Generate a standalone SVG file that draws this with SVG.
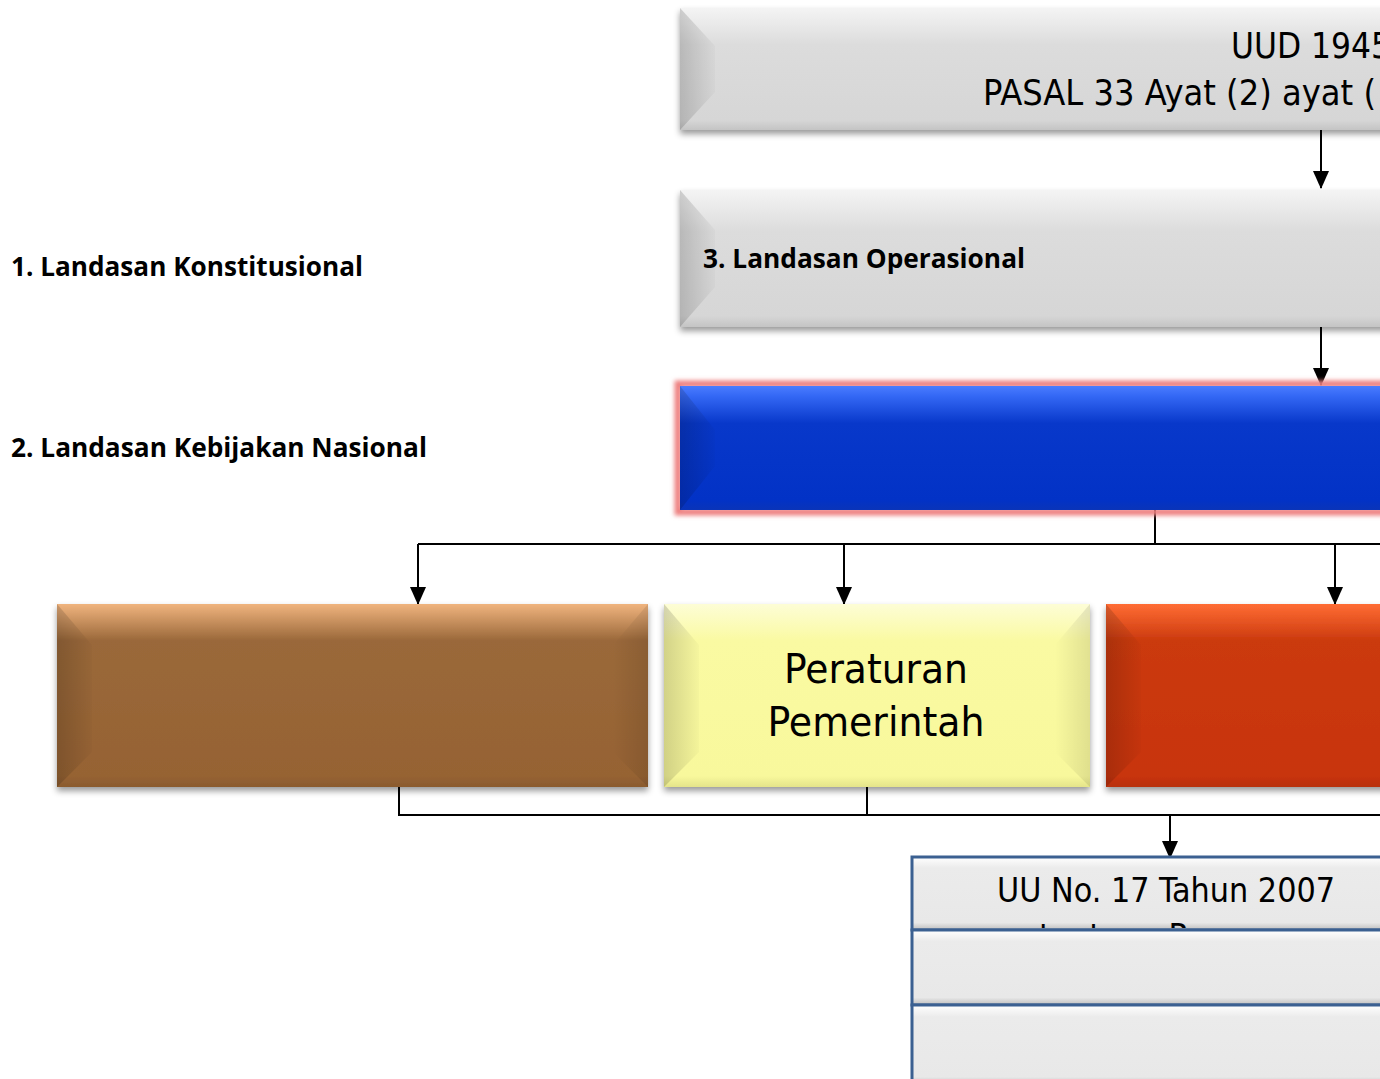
<svg xmlns="http://www.w3.org/2000/svg" width="1380" height="1079" viewBox="0 0 1380 1079">
  <style>
    .lbl { font-family: "Open Sans", Lato, "DejaVu Sans", sans-serif; font-weight: 700; font-size: 26px; fill: #000; }
    .box-txt { font-family: "DejaVu Sans Condensed", "DejaVu Sans", sans-serif; font-stretch: condensed; fill: #000; }
    .wire { fill: none; stroke: #000; stroke-width: 2; }
  </style>
  <defs>
    <filter id="shadow" x="-5%" y="-20%" width="110%" height="150%">
      <feDropShadow dx="0" dy="4" stdDeviation="3" flood-color="#000" flood-opacity="0.4"/>
    </filter>
    <filter id="glow" x="-5%" y="-20%" width="110%" height="150%">
      <feGaussianBlur stdDeviation="2"/>
    </filter>
    <!-- arrowhead drawn along +x so orient="auto" points it down the line -->
    <marker id="arrow" markerUnits="userSpaceOnUse" markerWidth="18" markerHeight="16" refX="17" refY="8" orient="auto" viewBox="0 0 18 16">
      <path d="M0,0 L18,8 L0,16 Z" fill="#000"/>
    </marker>
    <!-- vertical face shading -->
    <linearGradient id="gGray" x1="0" y1="0" x2="0" y2="1">
      <stop offset="0" stop-color="#f4f4f4"/>
      <stop offset="0.3" stop-color="#dcdcdc"/>
      <stop offset="0.92" stop-color="#d6d6d6"/>
      <stop offset="1" stop-color="#c4c4c4"/>
    </linearGradient>
    <linearGradient id="gBlue" x1="0" y1="0" x2="0" y2="1">
      <stop offset="0" stop-color="#4b7cff"/>
      <stop offset="0.08" stop-color="#3468f5"/>
      <stop offset="0.3" stop-color="#0838ca"/>
      <stop offset="0.92" stop-color="#0232c6"/>
      <stop offset="1" stop-color="#0a34b8"/>
    </linearGradient>
    <linearGradient id="gBrown" x1="0" y1="0" x2="0" y2="1">
      <stop offset="0" stop-color="#f0b47e"/>
      <stop offset="0.2" stop-color="#9a683a"/>
      <stop offset="0.94" stop-color="#966333"/>
      <stop offset="1" stop-color="#8a5a2e"/>
    </linearGradient>
    <linearGradient id="gYellow" x1="0" y1="0" x2="0" y2="1">
      <stop offset="0" stop-color="#fdfdd6"/>
      <stop offset="0.2" stop-color="#fafaa2"/>
      <stop offset="0.94" stop-color="#f8f89c"/>
      <stop offset="1" stop-color="#e4e48a"/>
    </linearGradient>
    <linearGradient id="gOrange" x1="0" y1="0" x2="0" y2="1">
      <stop offset="0" stop-color="#ff6c34"/>
      <stop offset="0.2" stop-color="#cb3a0e"/>
      <stop offset="0.94" stop-color="#c83408"/>
      <stop offset="1" stop-color="#b83008"/>
    </linearGradient>
    <linearGradient id="gRow" x1="0" y1="0" x2="0" y2="1">
      <stop offset="0" stop-color="#ffffff"/>
      <stop offset="0.15" stop-color="#ebebeb"/>
      <stop offset="0.9" stop-color="#e8e8e8"/>
      <stop offset="1" stop-color="#bdbdbd"/>
    </linearGradient>
    <!-- side bevel shading -->
    <linearGradient id="gSideDark" x1="0" y1="0" x2="1" y2="0">
      <stop offset="0" stop-color="#000" stop-opacity="0.16"/>
      <stop offset="1" stop-color="#000" stop-opacity="0.02"/>
    </linearGradient>
    <linearGradient id="gSideDarkR" x1="1" y1="0" x2="0" y2="0">
      <stop offset="0" stop-color="#000" stop-opacity="0.1"/>
      <stop offset="1" stop-color="#000" stop-opacity="0.0"/>
    </linearGradient>
    <clipPath id="row1clip">
      <rect x="912" y="857" width="470" height="71"/>
    </clipPath>
  </defs>

  <rect width="1380" height="1079" fill="#fff"/>

  <!-- side labels -->
  <text class="lbl" x="11" y="276" textLength="352" lengthAdjust="spacingAndGlyphs">1. Landasan Konstitusional</text>
  <text class="lbl" x="11" y="457" textLength="416" lengthAdjust="spacingAndGlyphs">2. Landasan Kebijakan Nasional</text>

  <!-- connectors -->
  <g id="connectors">
    <path class="wire" d="M1321,130 V188" marker-end="url(#arrow)"/>
    <path class="wire" d="M1321,327 V385" marker-end="url(#arrow)"/>
    <path class="wire" d="M1155,510 V544"/>
    <path class="wire" d="M418,544 H1380"/>
    <path class="wire" d="M418,544 V604" marker-end="url(#arrow)"/>
    <path class="wire" d="M844,544 V604" marker-end="url(#arrow)"/>
    <path class="wire" d="M1335,544 V604" marker-end="url(#arrow)"/>
    <path class="wire" d="M399,787 V815 H1380"/>
    <path class="wire" d="M867,787 V815"/>
    <path class="wire" d="M1170,815 V858" marker-end="url(#arrow)"/>
  </g>

  <!-- UUD 1945 -->
  <g id="node-uud">
    <rect x="680" y="8" width="720" height="122" fill="url(#gGray)" filter="url(#shadow)"/>
    <polygon points="680,8 715,46 715,92 680,130" fill="url(#gSideDark)"/>
    <text class="box-txt" x="1231" y="58" font-size="36" textLength="160" lengthAdjust="spacingAndGlyphs">UUD 1945</text>
    <text class="box-txt" x="983" y="105" font-size="36" textLength="393" lengthAdjust="spacingAndGlyphs">PASAL 33 Ayat (2) ayat (</text>
  </g>

  <!-- Landasan Operasional -->
  <g id="node-operasional">
    <rect x="680" y="190" width="720" height="137" fill="url(#gGray)" filter="url(#shadow)"/>
    <polygon points="680,190 715,230 715,287 680,327" fill="url(#gSideDark)"/>
    <text class="lbl" x="703" y="268" textLength="322" lengthAdjust="spacingAndGlyphs">3. Landasan Operasional</text>
  </g>

  <!-- blue box -->
  <g id="node-blue">
    <rect x="678" y="384" width="722" height="128" fill="none" stroke="#ee8080" stroke-width="7" filter="url(#glow)"/>
    <rect x="680" y="386" width="720" height="124" fill="url(#gBlue)"/>
    <polygon points="680,386 715,430 715,466 680,510" fill="url(#gSideDark)"/>
  </g>

  <!-- brown box -->
  <g id="node-brown">
    <rect x="57" y="604" width="591" height="183" fill="url(#gBrown)" filter="url(#shadow)"/>
    <polygon points="57,604 92,645 92,752 57,787" fill="url(#gSideDark)"/>
    <polygon points="648,604 613,645 613,752 648,787" fill="url(#gSideDarkR)"/>
  </g>

  <!-- Peraturan Pemerintah -->
  <g id="node-pp">
    <rect x="664" y="604" width="426" height="183" fill="url(#gYellow)" filter="url(#shadow)"/>
    <polygon points="664,604 699,645 699,752 664,787" fill="url(#gSideDark)"/>
    <polygon points="1090,604 1055,645 1055,752 1090,787" fill="url(#gSideDarkR)"/>
    <text class="box-txt" x="876" y="683" font-size="41" text-anchor="middle" textLength="184" lengthAdjust="spacingAndGlyphs">Peraturan</text>
    <text class="box-txt" x="876" y="736" font-size="41" text-anchor="middle" textLength="217" lengthAdjust="spacingAndGlyphs">Pemerintah</text>
  </g>

  <!-- orange box -->
  <g id="node-orange">
    <rect x="1106" y="604" width="300" height="183" fill="url(#gOrange)" filter="url(#shadow)"/>
    <polygon points="1106,604 1141,645 1141,752 1106,787" fill="url(#gSideDark)"/>
  </g>

  <!-- stacked list -->
  <g id="node-uu17">
    <rect x="912" y="857" width="480" height="73" fill="url(#gRow)" stroke="#3b6091" stroke-width="3"/>
    <g clip-path="url(#row1clip)">
      <text class="box-txt" x="1166" y="902" font-size="34" text-anchor="middle" textLength="338" lengthAdjust="spacingAndGlyphs">UU No. 17 Tahun 2007</text>
      <text class="box-txt" x="1039" y="948" font-size="34">tentang Rencana</text>
    </g>
  </g>
  <g id="node-row2">
    <rect x="912" y="930" width="480" height="75" fill="url(#gRow)" stroke="#3b6091" stroke-width="3"/>
  </g>
  <g id="node-row3">
    <rect x="912" y="1005" width="480" height="80" fill="url(#gRow)" stroke="#3b6091" stroke-width="3"/>
  </g>
</svg>
